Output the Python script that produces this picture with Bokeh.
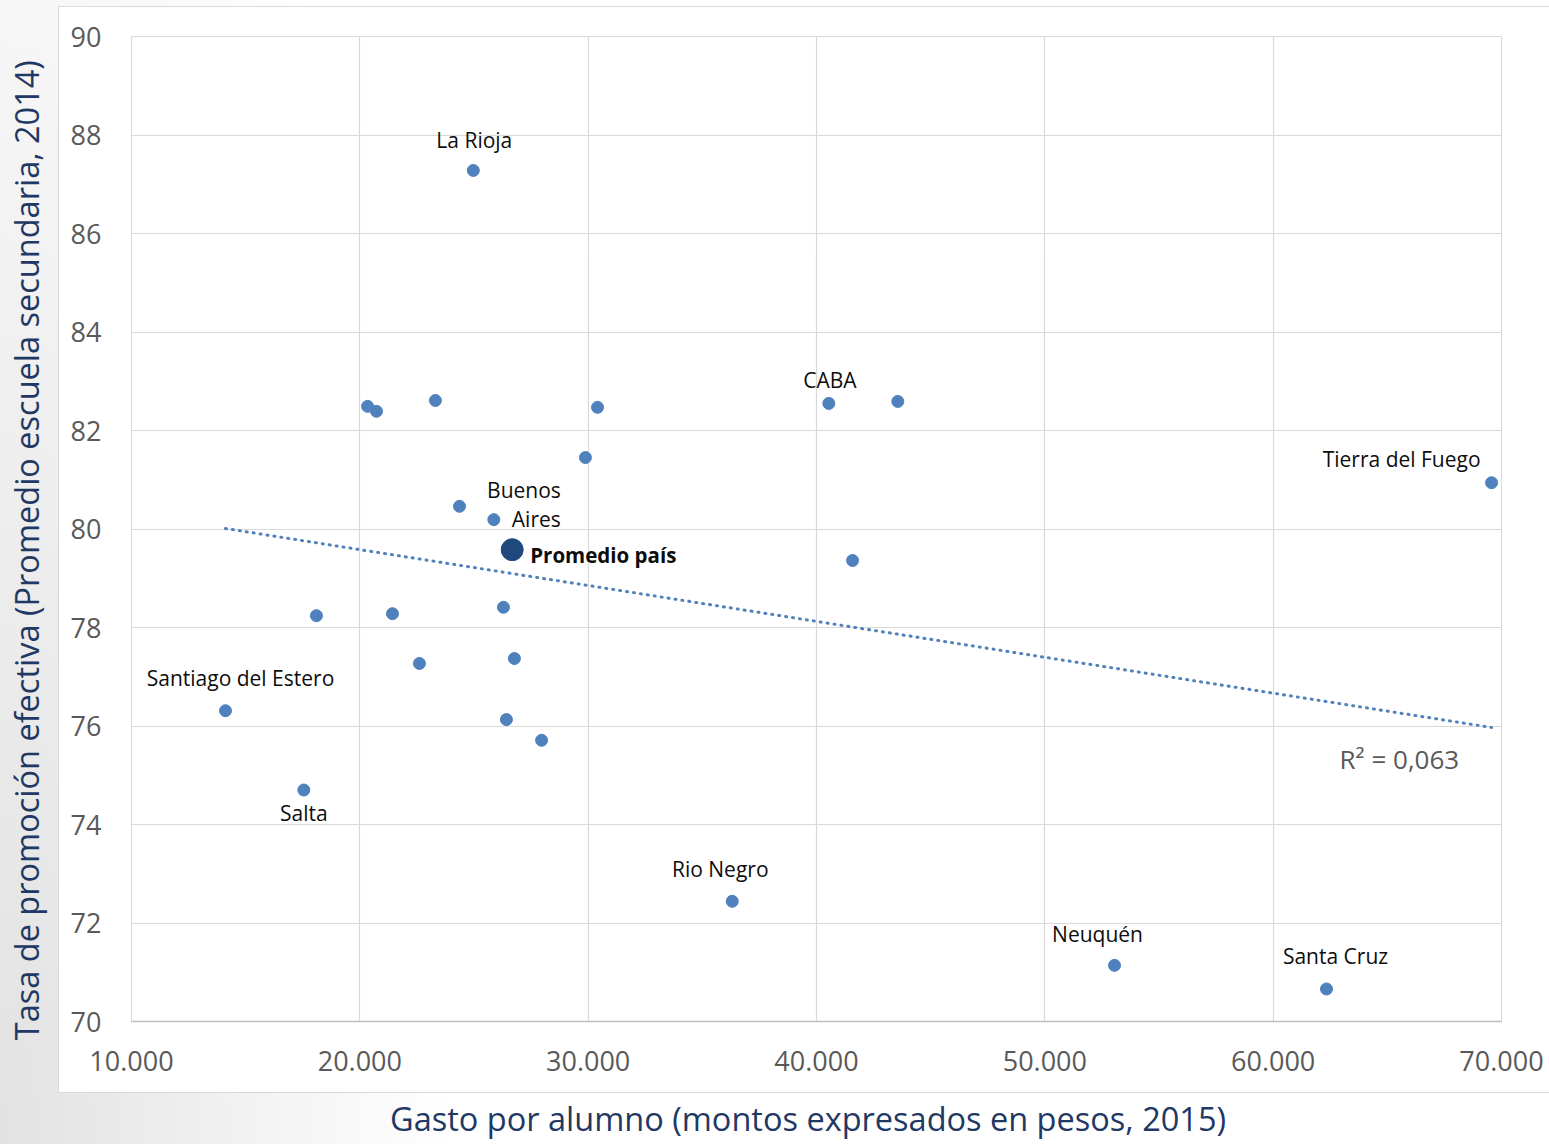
import numpy as np
from bokeh.plotting import figure
from bokeh.models import ColumnDataSource, FixedTicker, Range1d
from bokeh.core.properties import value
from bokeh.embed import file_html
from bokeh.resources import INLINE

# ---------------- data ----------------
prov_gasto = [24970, 20340, 20730, 23310, 30410, 29880, 40540, 43560, 69565,
              24365, 25868, 41580, 18100, 21430, 26290, 26770, 22610, 14117,
              26420, 27960, 17546, 36309, 53052, 62336]
prov_tasa = [87.28, 82.49, 82.39, 82.61, 82.47, 81.45, 82.55, 82.59, 80.94,
             80.46, 80.19, 79.36, 78.24, 78.28, 78.41, 77.37, 77.27, 76.31,
             76.13, 75.71, 74.70, 72.44, 71.14, 70.66]
prov_label = ["La Rioja", "", "", "", "", "", "CABA", "", "Tierra del Fuego",
              "", "Buenos\nAires", "", "", "", "", "", "", "Santiago del Estero",
              "", "", "Salta", "Rio Negro", "Neuquén", "Santa Cruz"]

avg_gasto = [26673]
avg_tasa = [79.58]
avg_label = ["Promedio país"]

trend_gasto = [14117, 69565]
trend_tasa = [80.01, 75.97]
r2_text = ["R² = 0,063"]

x_ticks = [10000, 20000, 30000, 40000, 50000, 60000, 70000]
x_tick_labels = ["10.000", "20.000", "30.000", "40.000", "50.000", "60.000", "70.000"]
y_ticks = [70, 72, 74, 76, 78, 80, 82, 84, 86, 88, 90]
y_tick_labels = ["70", "72", "74", "76", "78", "80", "82", "84", "86", "88", "90"]

x_title = "Gasto por alumno (montos expresados en pesos, 2015)"
y_title = "Tasa de promoción efectiva (Promedio escuela secundaria, 2014)"

# ---------------- styles ----------------
FONT = "Open Sans"
PT_COLOR = "#4f81bd"
AVG_COLOR = "#1f497d"
TITLE_COLOR = "#1f3864"
TICK_COLOR = "#595959"
GRID_COLOR = "#d9d9d9"
NBSP = "\u00a0"

# label placement (pixel offsets, align, baseline) per label
label_style = {
    "La Rioja": (1, -30, "center", "middle"),
    "CABA": (1, -23, "center", "middle"),
    "Tierra del Fuego": (-11, -24, "right", "middle"),
    "Buenos\nAires": (67, -15, "right", "middle"),
    "Santiago del Estero": (15, -33, "center", "middle"),
    "Salta": (0, 23, "center", "middle"),
    "Rio Negro": (-12, -32, "center", "middle"),
    "Neuquén": (-17, -31, "center", "middle"),
    "Santa Cruz": (9, -33, "center", "middle"),
}

BG_CSS = ("linear-gradient(#ffffff, #ffffff) 59px 7px / 1500px 1085px no-repeat, "
          "linear-gradient(#d9d9d9, #d9d9d9) 58px 6px / 1502px 1087px no-repeat, "
          "radial-gradient(ellipse 450px 1600px at 0px 1144px, #e2e2e2 0%, #ffffff 100%)")

p = figure(width=1549, height=1144,
           x_range=Range1d(x_ticks[0], x_ticks[-1]),
           y_range=Range1d(y_ticks[0], y_ticks[-1]),
           output_backend="svg", toolbar_location=None,
           min_border_left=131, min_border_right=48,
           min_border_top=36, min_border_bottom=123,
           background_fill_color="white", border_fill_alpha=0.0,
           outline_line_color=GRID_COLOR)
p.styles = {"background": BG_CSS}

# axes
p.xaxis.ticker = FixedTicker(ticks=x_ticks)
p.yaxis.ticker = FixedTicker(ticks=y_ticks)
p.xaxis.major_label_overrides = {t: l for t, l in zip(x_ticks, x_tick_labels)}
p.yaxis.major_label_overrides = {t: l for t, l in zip(y_ticks, y_tick_labels)}
for ax in (p.xaxis, p.yaxis):
    ax.major_tick_line_color = None
    ax.minor_tick_line_color = None
    ax.major_label_text_font = FONT
    ax.major_label_text_font_size = "27px"
    ax.major_label_text_color = TICK_COLOR
    ax.axis_label_text_font = FONT
    ax.axis_label_text_font_size = "32.5px"
    ax.axis_label_text_font_style = "normal"
    ax.axis_label_text_color = TITLE_COLOR
p.xaxis.axis_line_color = "#bfbfbf"
p.xaxis.axis_line_width = 1.5
p.yaxis.axis_line_color = None
p.xaxis.major_label_standoff = 23
p.yaxis.major_label_standoff = 24

# axis titles (trailing no-break spaces nudge the centre like the original)
p.xaxis.axis_label = x_title + NBSP * 2
p.yaxis.axis_label = y_title + NBSP * 5
p.xaxis.axis_label_standoff = 22
p.yaxis.axis_label_standoff = 19

p.xgrid.ticker = FixedTicker(ticks=x_ticks)
p.ygrid.ticker = FixedTicker(ticks=y_ticks)
p.grid.grid_line_color = GRID_COLOR
p.grid.grid_line_width = 1.2

# trend line
p.line(trend_gasto, trend_tasa, line_color=PT_COLOR, line_width=3,
       line_dash="1 6", line_cap="round")

# points
p.scatter(prov_gasto, prov_tasa, size=12, fill_color=PT_COLOR, line_color=PT_COLOR)
p.scatter(avg_gasto, avg_tasa, size=22, fill_color=AVG_COLOR, line_color=AVG_COLOR)

# data labels
lx, ly, lt, dx, dy, al, bl = [], [], [], [], [], [], []
for gx, ty, name in zip(prov_gasto, prov_tasa, prov_label):
    if name:
        o = label_style[name]
        lx.append(gx); ly.append(ty); lt.append(name)
        dx.append(o[0]); dy.append(o[1]); al.append(o[2]); bl.append(o[3])
src = ColumnDataSource(dict(x=lx, y=ly, text=lt, dx=dx, dy=dy, align=al, base=bl))
p.text(x="x", y="y", text="text", source=src, x_offset="dx", y_offset="dy",
       text_align="align", text_baseline="base", text_font=value(FONT),
       text_font_size="21px", text_color="#0d0d0d", text_line_height=1.05)

p.text(x=avg_gasto, y=avg_tasa, text=avg_label, x_offset=18, y_offset=5,
       text_align="left", text_baseline="middle", text_font=value(FONT),
       text_font_size="20.5px", text_font_style="bold", text_color="#0d0d0d")

# R² annotation near the end of the trend line
p.text(x=trend_gasto[-1:], y=trend_tasa[-1:], text=r2_text, x_offset=-152, y_offset=32,
       text_align="left", text_baseline="middle", text_font=value(FONT),
       text_font_size="26px", text_color=TICK_COLOR)

open("out.html", "w").write(file_html(p, INLINE))
